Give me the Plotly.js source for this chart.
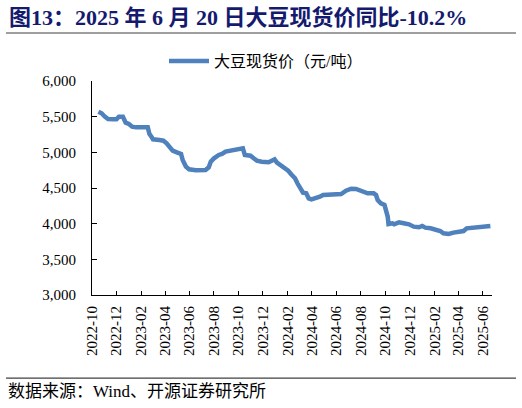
<!DOCTYPE html>
<html>
<head>
<meta charset="utf-8">
<script src="https://cdn.plot.ly/plotly-3.0.1.min.js"></script>
<style>
  body { margin: 0; background: #fff; }
  #chart { width: 522px; height: 408px; }
</style>
</head>
<body>
<div id="chart"></div>
<script>
// soybean spot price, yuan per ton
const dates = [
  "2022-10-17", "2022-10-25", "2022-11-02", "2022-11-10", "2022-11-23", "2022-12-01",
  "2022-12-07", "2022-12-17", "2022-12-24", "2023-01-01", "2023-01-09", "2023-01-19",
  "2023-02-17", "2023-02-21", "2023-02-26", "2023-03-02", "2023-03-18", "2023-03-28",
  "2023-04-05", "2023-04-13", "2023-04-20", "2023-05-02", "2023-05-11", "2023-05-15",
  "2023-05-23", "2023-05-31", "2023-06-17", "2023-07-11", "2023-07-19", "2023-07-24",
  "2023-08-01", "2023-08-13", "2023-08-21", "2023-08-30", "2023-09-11", "2023-09-24",
  "2023-10-06", "2023-10-12", "2023-10-17", "2023-10-31", "2023-11-08", "2023-11-16",
  "2023-11-28", "2023-12-15", "2023-12-23", "2023-12-30", "2024-01-05", "2024-01-13",
  "2024-01-25", "2024-02-02", "2024-02-10", "2024-02-19", "2024-02-25", "2024-03-05",
  "2024-03-10", "2024-03-18", "2024-03-24", "2024-03-31", "2024-04-12", "2024-04-21",
  "2024-04-29", "2024-05-11", "2024-05-28", "2024-06-13", "2024-06-25", "2024-07-08",
  "2024-07-20", "2024-08-02", "2024-08-18", "2024-09-02", "2024-09-08", "2024-09-12",
  "2024-09-20", "2024-09-29", "2024-10-03", "2024-10-07", "2024-10-09", "2024-10-19",
  "2024-10-23", "2024-11-04", "2024-11-16", "2024-11-29", "2024-12-11", "2024-12-24",
  "2025-01-01", "2025-01-09", "2025-01-22", "2025-02-03", "2025-02-15", "2025-02-23",
  "2025-03-08", "2025-03-20", "2025-04-02", "2025-04-14", "2025-04-22", "2025-05-05",
  "2025-05-21", "2025-06-01", "2025-06-20"
];
const prices = [
  5570, 5548, 5500, 5467, 5463, 5463,
  5500, 5500, 5416, 5397, 5360, 5350,
  5350, 5260, 5220, 5183, 5173, 5163,
  5127, 5080, 5023, 4995, 4977, 4893,
  4800, 4762, 4750, 4753, 4790, 4869,
  4916, 4963, 4977, 5010, 5023, 5033,
  5047, 5056, 4963, 4953, 4916, 4883,
  4869, 4860, 4883, 4902, 4855, 4822,
  4790, 4743, 4690, 4636, 4566, 4496,
  4434, 4425, 4355, 4341, 4355, 4378,
  4402, 4402, 4402, 4416, 4462, 4490,
  4486, 4462, 4425, 4425, 4402, 4332,
  4285, 4262, 4180, 4100, 3995, 4005,
  3991, 4019, 4005, 3991, 3958, 3949,
  3967, 3944, 3935, 3921, 3897, 3865,
  3855, 3874, 3879, 3897, 3935, 3944,
  3944, 3958, 3967
];
const tickLabels = [
  "2022-10", "2022-12", "2023-02", "2023-04", "2023-06", "2023-08", "2023-10", "2023-12",
  "2024-02", "2024-04", "2024-06", "2024-08", "2024-10", "2024-12", "2025-02", "2025-04", "2025-06"
];
const seriesName = "大豆现货价（元/吨）";
const titleText = "<b>图13：2025 年 6 月 20 日大豆现货价同比-10.2%</b>";
const sourceText = "数据来源：Wind、开源证券研究所";

const serif = "'Liberation Serif', 'Noto Sans CJK SC', serif";

Plotly.newPlot(
  "chart",
  [
    {
      x: dates,
      y: prices,
      name: seriesName,
      type: "scatter",
      mode: "lines",
      line: { color: "#4f81bd", width: 4.5 },
    },
  ],
  {
    width: 522,
    height: 408,
    margin: { l: 92, r: 30, t: 81, b: 113 },
    paper_bgcolor: "#fff",
    plot_bgcolor: "#fff",
    font: { family: serif, color: "#000", size: 15 },
    showlegend: true,
    legend: {
      orientation: "h",
      x: 0.18,
      xanchor: "left",
      y: 1.093,
      yanchor: "middle",
      itemwidth: 40,
      font: { family: serif, size: 16, color: "#000" },
      bgcolor: "rgba(0,0,0,0)",
    },
    xaxis: {
      type: "date",
      range: ["2022-10-01", "2025-06-24"],
      tickvals: tickLabels.map((t) => t + "-01"),
      ticktext: tickLabels,
      tickangle: -90,
      ticks: "inside",
      ticklen: 4,
      tickcolor: "#000",
      showline: true,
      linecolor: "#000",
      linewidth: 1,
      showgrid: false,
      zeroline: false,
      ticklabelstandoff: 4,
      tickfont: { family: serif, size: 15 },
    },
    yaxis: {
      range: [3000, 6000],
      dtick: 500,
      tickformat: ",",
      ticks: "inside",
      ticklen: 5,
      tickcolor: "#000",
      showline: true,
      linecolor: "#000",
      linewidth: 1,
      showgrid: false,
      zeroline: false,
      ticklabelstandoff: 12,
      tickfont: { family: serif, size: 15 },
    },
    shapes: [
      // rule under the title
      {
        type: "line", xref: "paper", yref: "paper",
        x0: -0.215, x1: 1.06, y0: 1.2243, y1: 1.2243,
        line: { color: "#7f7f7f", width: 1.5 },
      },
      // rule above the source note
      {
        type: "line", xref: "paper", yref: "paper",
        x0: -0.215, x1: 1.06, y0: -0.388, y1: -0.388,
        line: { color: "#404040", width: 1.2 },
      },
    ],
    annotations: [
      {
        text: titleText,
        xref: "paper", yref: "paper",
        x: -0.2125, y: 1.297,
        xanchor: "left", yanchor: "middle",
        showarrow: false,
        font: { family: serif, size: 22, color: "#141a6e" },
      },
      {
        text: sourceText,
        xref: "paper", yref: "paper",
        x: -0.215, y: -0.453,
        xanchor: "left", yanchor: "middle",
        showarrow: false,
        font: { family: serif, size: 17, color: "#000" },
      },
    ],
  },
  { displayModeBar: false, staticPlot: true }
);
</script>
</body>
</html>
